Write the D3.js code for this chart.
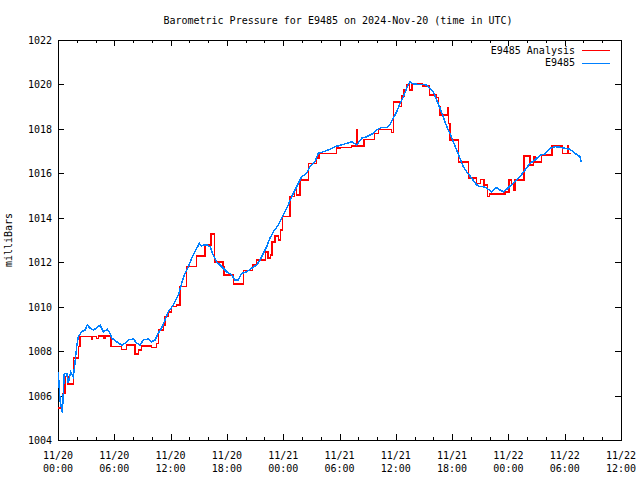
<!DOCTYPE html>
<html><head><meta charset="utf-8">
<script src="https://cdn.jsdelivr.net/npm/d3@7"></script>
<style>
body{margin:0;background:#fff;}
text{font-family:"DejaVu Sans Mono","Liberation Mono",monospace;font-size:10px;fill:#000;}
</style></head>
<body><svg id="c" width="640" height="480"></svg>
<script>
const title = "Barometric Pressure for E9485 on 2024-Nov-20 (time in UTC)";
const yLabel = "milliBars";
const seriesNames = ["E9485 Analysis", "E9485"];
const seriesColors = ["#ff0000", "#0080ff"];
const startTime = "2024-11-20T00:00:00Z";
const xDomainHours = [0, 60];
const yDomain = [1004, 1022];
const yTicks = [1004, 1006, 1008, 1010, 1012, 1014, 1016, 1018, 1020, 1022];

// Observations (hours since start, mbar)
const obsHours = [0.03,0.21,0.46,0.67,0.93,1.10,1.35,1.63,1.81,1.99,2.16,2.53,2.88,3.12,3.41,3.76,4.12,4.48,4.83,5.25,5.54,5.72,6.26,6.79,7.14,7.49,8.03,8.39,8.74,9.09,9.62,9.99,10.34,10.69,11.05,11.40,11.76,12.12,12.47,12.82,13.18,13.54,13.89,14.25,14.60,15.06,15.32,15.59,15.85,16.20,16.55,16.91,17.45,17.98,18.51,18.86,19.22,19.58,20.11,20.64,21.18,21.53,21.88,22.24,22.59,22.95,23.48,23.84,24.19,24.54,24.91,25.26,25.61,25.97,26.51,26.86,27.39,27.74,28.27,28.81,29.52,30.24,30.77,31.30,31.83,32.37,32.90,33.60,33.97,34.50,35.03,35.38,35.73,36.10,36.45,36.80,37.16,37.52,37.87,38.58,39.29,39.65,40.00,40.36,40.71,41.06,41.43,41.78,42.13,42.49,42.84,43.20,43.56,44.09,44.62,44.98,45.33,45.69,46.22,46.76,47.11,47.46,47.82,48.17,48.71,49.24,49.77,50.30,50.84,51.37,51.90,52.44,52.97,53.50,54.03,54.57,55.10,55.63,55.74];
const obsValues = [1007.07,1005.8,1005.23,1007.0,1007.0,1006.56,1007.07,1006.85,1007.46,1008.2,1008.65,1008.87,1008.95,1009.17,1009.04,1008.95,1009.04,1009.17,1008.87,1008.98,1008.81,1008.59,1008.42,1008.27,1008.36,1008.5,1008.55,1008.36,1008.27,1008.5,1008.55,1008.42,1008.5,1008.81,1009.04,1009.4,1009.77,1009.97,1010.22,1010.52,1011.05,1011.5,1011.8,1012.18,1012.47,1012.85,1012.73,1012.78,1012.78,1012.7,1012.32,1012.02,1011.8,1011.57,1011.43,1011.2,1011.2,1011.5,1011.57,1011.73,1011.88,1012.1,1012.4,1012.7,1013.08,1013.37,1013.67,1013.98,1014.27,1014.58,1014.95,1015.25,1015.55,1015.85,1016.0,1016.3,1016.52,1016.9,1016.97,1017.05,1017.2,1017.28,1017.35,1017.42,1017.28,1017.58,1017.65,1017.8,1017.95,1018.07,1018.07,1018.18,1018.48,1018.77,1019.15,1019.45,1019.83,1020.12,1020.02,1020.0,1019.98,1019.83,1019.67,1019.3,1018.93,1018.55,1018.1,1017.8,1017.42,1017.05,1016.68,1016.3,1016.07,1015.78,1015.48,1015.4,1015.4,1015.33,1015.17,1015.37,1015.25,1015.17,1015.28,1015.43,1015.62,1015.85,1016.15,1016.45,1016.6,1016.82,1016.87,1017.13,1017.2,1017.17,1017.13,1017.08,1016.9,1016.75,1016.52];

// Analysis (step values, hours since start, mbar)
const anaHours = [0.03,0.50,0.75,1.07,1.63,2.16,2.34,3.55,3.70,4.12,4.30,4.83,5.00,5.65,6.79,7.32,8.21,8.56,8.92,9.99,10.52,10.69,11.22,11.40,11.76,12.12,12.65,13.00,13.72,14.78,15.67,16.31,16.66,17.60,17.70,18.68,19.75,20.71,21.18,22.14,22.38,22.67,22.78,23.13,23.48,23.73,23.90,24.73,25.18,25.42,25.79,26.68,27.57,27.82,29.70,30.05,31.30,31.83,31.94,32.61,33.71,34.14,35.56,35.73,36.37,36.63,36.88,37.16,37.44,37.70,38.87,39.57,40.36,40.53,40.71,41.53,41.59,41.78,42.66,43.73,44.62,45.05,45.40,45.75,45.96,47.63,48.09,48.35,48.52,48.71,49.66,50.30,50.66,50.84,51.55,52.62,53.79,54.28,54.40,54.67];
const anaValues = [1005.43,1006.1,1006.85,1006.52,1007.68,1008.2,1008.65,1008.53,1008.65,1008.57,1008.67,1008.6,1008.67,1008.2,1008.08,1008.27,1007.87,1008.05,1008.23,1008.17,1008.35,1008.95,1009.17,1009.55,1009.77,1010.0,1010.07,1010.9,1011.8,1012.27,1012.78,1013.27,1012.0,1011.8,1011.43,1011.02,1011.62,1011.88,1012.1,1012.47,1012.2,1012.32,1012.9,1013.18,1013.0,1013.45,1014.05,1014.95,1015.25,1015.03,1015.7,1016.45,1016.68,1016.9,1017.13,1017.17,1017.23,1017.95,1017.23,1017.53,1017.8,1017.98,1017.83,1019.2,1019.0,1019.48,1019.75,1019.98,1019.75,1020.02,1019.93,1019.53,1019.42,1019.0,1018.63,1018.94,1018.25,1017.5,1016.52,1015.78,1015.55,1015.73,1015.48,1014.95,1015.07,1015.17,1015.7,1015.55,1015.25,1015.7,1016.78,1016.38,1016.75,1016.52,1016.82,1017.23,1016.9,1017.23,1016.9,1016.9];

const t0 = new Date(startTime).getTime();
const toDate = h => new Date(t0 + h * 3600e3);

const svg = d3.select("#c");
const L = 58, R = 621, T = 40, B = 440;

const x = d3.scaleUtc().domain(xDomainHours.map(toDate)).range([L, R]);
const y = d3.scaleLinear().domain(yDomain).range([B, T]);

// frame
svg.append("rect").attr("x", L + 0.5).attr("y", T + 0.5).attr("width", R - L).attr("height", B - T)
  .attr("fill", "none").attr("stroke", "#000").attr("shape-rendering", "crispEdges");

const majorX = x.ticks(d3.utcHour.every(6));
const minorX = x.ticks(d3.utcHour.every(2));
const g = svg.append("g").attr("stroke", "#000").attr("shape-rendering", "crispEdges");
minorX.forEach(d => {
  const px = Math.round(x(d)) + 0.5;
  const len = (d.getUTCHours() % 6 === 0) ? 6 : 3;
  g.append("line").attr("x1", px).attr("x2", px).attr("y1", B).attr("y2", B - len);
  g.append("line").attr("x1", px).attr("x2", px).attr("y1", T).attr("y2", T + len);
});
yTicks.forEach(v => {
  const py = Math.round(y(v)) + 0.5;
  g.append("line").attr("x1", L).attr("x2", L + 6).attr("y1", py).attr("y2", py);
  g.append("line").attr("x1", R).attr("x2", R - 6).attr("y1", py).attr("y2", py);
});

// y tick labels
svg.append("g").selectAll("text").data(yTicks).join("text")
  .attr("x", 52).attr("y", d => y(d) + 4).attr("text-anchor", "end").text(d => d);

// x tick labels
const fDay = d3.utcFormat("%m/%d"), fTime = d3.utcFormat("%H:%M");
const xl = svg.append("g");
majorX.forEach(d => {
  xl.append("text").attr("x", x(d)).attr("y", 459).attr("text-anchor", "middle").text(fDay(d));
  xl.append("text").attr("x", x(d)).attr("y", 472).attr("text-anchor", "middle").text(fTime(d));
});

// title & axis label
svg.append("text").attr("x", 338).attr("y", 24).attr("text-anchor", "middle").text(title);
svg.append("text").attr("transform", "translate(12,240) rotate(-90)").attr("text-anchor", "middle").text(yLabel);

// data
const plot = svg.append("g").attr("shape-rendering", "crispEdges");
const anaData = anaHours.map((h, i) => [toDate(h), anaValues[i]]);
const obsData = obsHours.map((h, i) => [toDate(h), obsValues[i]]);
plot.append("path").datum(anaData)
  .attr("d", d3.line().x(d => x(d[0])).y(d => y(d[1])).curve(d3.curveStepAfter))
  .attr("fill", "none").attr("stroke", seriesColors[0]).attr("stroke-width", 1.5);
plot.append("path").datum(obsData)
  .attr("d", d3.line().x(d => x(d[0])).y(d => y(d[1])))
  .attr("fill", "none").attr("stroke", seriesColors[1]).attr("stroke-width", 1.5);

// legend
const leg = svg.append("g");
seriesNames.forEach((n, i) => {
  const ly = 50 + i * 12.5;
  leg.append("text").attr("x", 575).attr("y", ly + 3.5).attr("text-anchor", "end").text(n);
  leg.append("line").attr("x1", 582).attr("x2", 610).attr("y1", Math.round(ly) + 0.5).attr("y2", Math.round(ly) + 0.5)
    .attr("stroke", seriesColors[i]).attr("shape-rendering", "crispEdges");
});
</script></body></html>
